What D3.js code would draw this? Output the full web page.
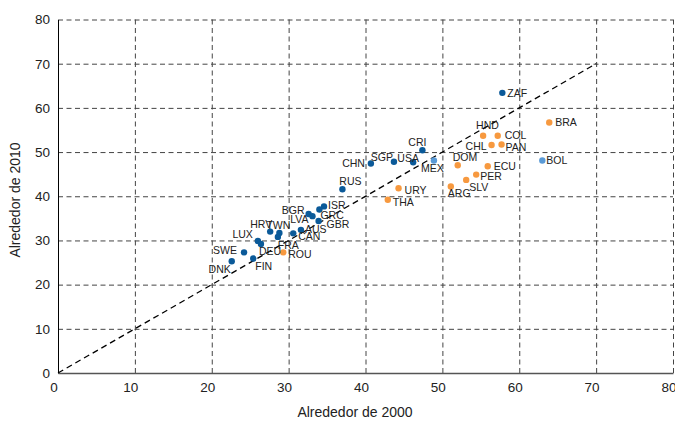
<!DOCTYPE html>
<html>
<head>
<meta charset="utf-8">
<script src="https://cdn.jsdelivr.net/npm/d3@7"></script>
<style>
  body { margin: 0; background: #fff; }
  text { font-family: "Liberation Sans", Arial, sans-serif; fill: #222; }
</style>
</head>
<body>
<script>
// chart data
var codes = ["ZAF","BRA","HND","COL","CHL","PAN","BOL","CRI","CHN","SGP","USA","MEX",
  "DOM","ECU","PER","SLV","ARG","URY","THA","RUS","ISR","GRC","BGR","LVA","GBR",
  "AUS","CAN","TWN","HRV","FRA","LUX","DEU","ROU","SWE","FIN","DNK"];
var around2000 = [57.8,63.9,55.3,57.2,56.4,57.7,63.0,47.4,40.7,43.7,46.2,48.9,
  52.0,55.9,54.4,53.1,51.1,44.3,42.9,37.0,34.6,34.0,32.6,33.1,33.9,
  31.6,30.6,28.8,27.6,28.6,26.0,26.4,29.3,24.2,25.4,22.6];
var around2010 = [63.4,56.7,53.7,53.7,51.6,51.7,48.1,50.4,47.4,47.8,47.7,48.1,
  47.0,46.8,44.9,43.7,42.2,41.8,39.2,41.6,37.7,37.0,36.0,35.5,34.4,
  32.4,31.6,31.7,32.0,30.8,29.9,29.2,27.3,27.3,25.9,25.3];
// group: 0 = dark blue, 1 = orange, 2 = light blue
var groups = [0,1,1,1,1,1,2,0,0,0,0,2,
  1,1,1,1,1,1,1,0,0,0,0,0,0,
  0,0,0,0,0,0,0,1,0,0,0];
var xTicks = [0,10,20,30,40,50,60,70,80];
var yTicks = [0,10,20,30,40,50,60,70,80];
var diagonal = [0, 70];

// label placement (anchor, dx, dy) for each country
var labelPos = [
  ["start",5,0],["start",6,0],["start",-7,-10],["start",7,0],["end",-5,1],["start",4,3],
  ["start",4,0],["middle",-5,-8],["end",-6,0],["end",-1,-4],["middle",-5,-4],["middle",-1.5,8],
  ["start",-5,-8],["start",6,0],["start",4,2],["start",3,7],["start",-3,7],["start",6,2],
  ["start",5,3],["middle",8,-8],["start",4,-1],["start",1,6],["end",-4,-4],["end",-4,3],
  ["start",8,3],["start",4,-1],["start",5,3],["middle",-1,-8],["end",2,-7],["start",0,8],
  ["end",-5,-7],["start",-2,7],["start",5,2],["end",-7,-2],["start",2,8],["end",-1,8]
];
var colors = ["#0b5a99", "#f7993f", "#5a9ad6"];

var svgWidth = 675;
var svgHeight = 422;

var svg = d3.select("body")
  .append("svg")
  .attr("width", svgWidth)
  .attr("height", svgHeight);

var x = d3.scaleLinear().domain([0, 80]).range([58, 673]);
var y = d3.scaleLinear().domain([0, 80]).range([373, 19.5]);

// dashed gridlines
svg.append("g")
  .attr("transform", "translate(58,0)")
  .call(d3.axisLeft(y).tickValues(yTicks.slice(1)).tickSize(-(673 - 58)).tickFormat(""))
  .call(g => g.select(".domain").remove())
  .selectAll("line")
  .attr("stroke", "#444")
  .attr("stroke-dasharray", "5,3.5");

svg.append("g")
  .attr("transform", "translate(0,373)")
  .call(d3.axisBottom(x).tickValues(xTicks.slice(1)).tickSize(-(373 - 19.5)).tickFormat(""))
  .call(g => g.select(".domain").remove())
  .selectAll("line")
  .attr("stroke", "#444")
  .attr("stroke-dasharray", "5,3.5");

// axes
var leftAxis = svg.append("g")
  .attr("transform", "translate(58,0)")
  .call(d3.axisLeft(y).tickValues(yTicks).tickSize(0).tickPadding(8));
leftAxis.select(".domain").attr("stroke", "#000");
leftAxis.selectAll("text")
  .style("font-size", "13.5px")
  .style("font-family", "'Liberation Sans', Arial, sans-serif")
  .attr("fill", "#222");

var bottomAxis = svg.append("g")
  .attr("transform", "translate(0,373)")
  .call(d3.axisBottom(x).tickValues(xTicks).tickSize(0).tickPadding(9));
bottomAxis.select(".domain").attr("stroke", "#555").attr("stroke-width", 1.5);
bottomAxis.selectAll("text")
  .attr("dx", -4.5)
  .style("font-size", "13.5px")
  .style("font-family", "'Liberation Sans', Arial, sans-serif")
  .attr("fill", "#222");

// 45 degree reference line
svg.append("line")
  .attr("x1", x(diagonal[0]))
  .attr("y1", y(diagonal[0]))
  .attr("x2", x(diagonal[1]))
  .attr("y2", y(diagonal[1]))
  .attr("stroke", "#000")
  .attr("stroke-width", 1.3)
  .attr("stroke-dasharray", "6,4");

// points
var idx = d3.range(codes.length);
svg.selectAll("circle")
  .data(idx)
  .enter()
  .append("circle")
  .attr("cx", i => x(around2000[i]))
  .attr("cy", i => y(around2010[i]))
  .attr("r", 3.2)
  .attr("fill", i => colors[groups[i]]);

// point labels
svg.selectAll(".lbl")
  .data(idx)
  .enter()
  .append("text")
  .attr("class", "lbl")
  .attr("x", i => x(around2000[i]) + labelPos[i][1])
  .attr("y", i => y(around2010[i]) + labelPos[i][2])
  .attr("dy", "0.35em")
  .attr("text-anchor", i => labelPos[i][0])
  .style("font-size", "10.5px")
  .text(i => codes[i]);

// axis titles
svg.append("text")
  .attr("x", 355)
  .attr("y", 417)
  .attr("text-anchor", "middle")
  .style("font-size", "14px")
  .text("Alrededor de 2000");

svg.append("text")
  .attr("transform", "translate(20,200) rotate(-90)")
  .attr("text-anchor", "middle")
  .style("font-size", "14px")
  .text("Alrededor de 2010");
</script>
</body>
</html>
